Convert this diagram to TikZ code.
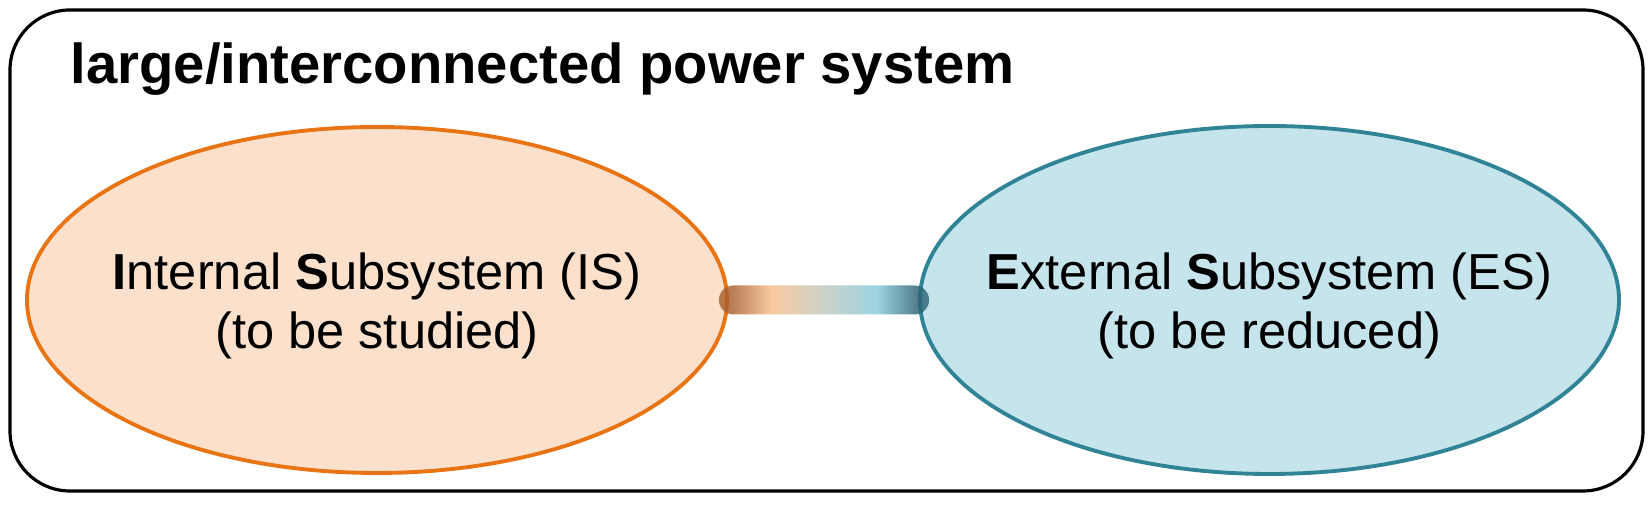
\documentclass[tikz,border=0pt]{standalone}
\usepackage{fontspec}
\setmainfont{Liberation Sans}
\usepackage{xcolor}
\usetikzlibrary{shapes.geometric}

\definecolor{isline}{RGB}{233,116,20}
\definecolor{isfill}{RGB}{251,224,203}
\definecolor{esline}{RGB}{48,132,150}
\definecolor{esfill}{RGB}{197,228,235}
\definecolor{brA}{RGB}{170,95,45}
\definecolor{brB}{RGB}{247,190,140}
\definecolor{brC}{RGB}{200,200,182}
\definecolor{brD}{RGB}{135,202,220}
\definecolor{brE}{RGB}{45,100,118}

\pgfdeclarehorizontalshading{bridgeshade}{100bp}{
    color(0bp)=(brA); color(28bp)=(brA); color(37.5bp)=(brB);
    color(48bp)=(brC); color(62.5bp)=(brD); color(72bp)=(brE);
    color(100bp)=(brE)}

\begin{document}
\begin{tikzpicture}[
    frame/.style={
        draw,
        line width=0.9pt,
        rounded corners=0.6cm
    },
    subsys/.style={
        ellipse,
        line width=1.1pt,
        minimum width=7.0cm,
        minimum height=3.46cm,
        inner sep=0pt
    },
    label/.style={
        align=center,
        inner sep=0pt,
        font=\fontsize{14.4}{17}\selectfont
    },
    bridge/.style={
        shading=bridgeshade,
        fill opacity=0.82,
        rounded corners=0.145cm
    }
]
\useasboundingbox (0,0) rectangle (16.51,5.06);

% ==================================================
% Outer system
% ==================================================

\draw[frame] (0.10,0.15) rectangle (16.43,4.96);

\node[
    anchor=base west,
    inner sep=0pt,
    font=\fontsize{16}{19}\selectfont\bfseries
] (title) at (0.70,4.22)
{large/interconnected power system};


% ==================================================
% Subsystems
% ==================================================

\node[
    subsys,
    draw=isline,
    fill=isfill
] (is) at (3.77,2.06) {};

\node[label, yshift=-0.06cm] (islabel) at (is)
{
    \textbf{I}nternal \textbf{S}ubsystem (IS)\\
    (to be studied)
};

\node[
    subsys,
    draw=esline,
    fill=esfill,
    minimum width=6.99cm,
    minimum height=3.48cm
] (es) at (12.695,2.06) {};

\node[label, yshift=-0.06cm] (eslabel) at (es)
{
    \textbf{E}xternal \textbf{S}ubsystem (ES)\\
    (to be reduced)
};


% ==================================================
% Connection
% ==================================================

\path[bridge] ([xshift=-0.10cm,yshift=-0.145cm]is.east)
    rectangle ([xshift=0.11cm,yshift=0.145cm]es.west);

\end{tikzpicture}
\end{document}
